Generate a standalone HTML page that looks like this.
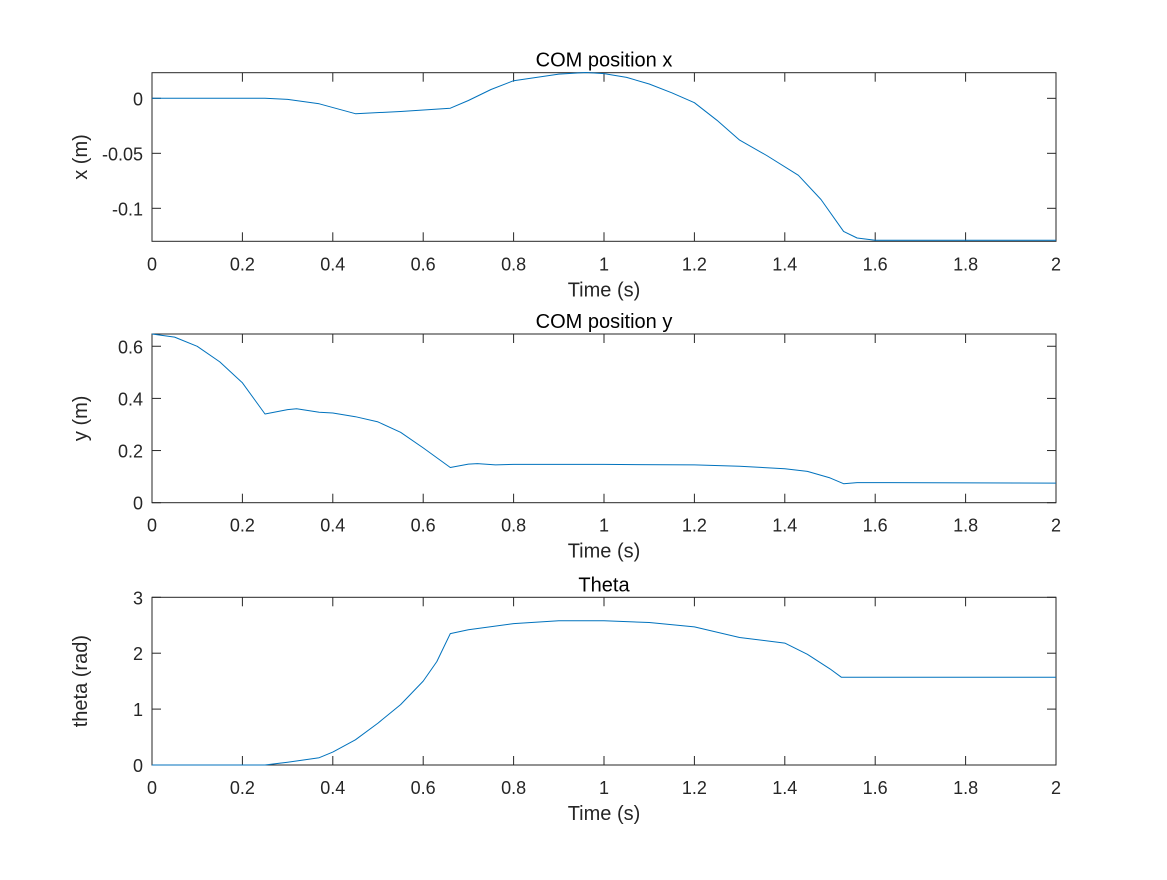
<!DOCTYPE html>
<html><head><meta charset="utf-8"><style>
body{margin:0;background:#fff;}
svg{font-family:"Liberation Sans",Arial,sans-serif;fill:#262626;}
</style></head><body>
<svg id="fig" width="1167" height="875" viewBox="0 0 1167 875" xmlns="http://www.w3.org/2000/svg"></svg>
<script>
const timeX=[0,0.25,0.3,0.37,0.45,0.55,0.66,0.7,0.75,0.8,0.9,0.96,1.0,1.05,1.1,1.15,1.2,1.25,1.3,1.36,1.43,1.48,1.53,1.56,1.6,2.0];
const comX=[0,0,-0.001,-0.005,-0.014,-0.012,-0.009,-0.002,0.008,0.016,0.022,0.0235,0.0225,0.019,0.013,0.005,-0.004,-0.02,-0.038,-0.052,-0.070,-0.092,-0.121,-0.127,-0.129,-0.129];
const timeY=[0,0.05,0.1,0.15,0.2,0.25,0.3,0.32,0.37,0.4,0.45,0.5,0.55,0.6,0.66,0.7,0.72,0.76,0.8,1.0,1.2,1.3,1.4,1.45,1.5,1.53,1.56,2.0];
const comY=[0.647,0.635,0.6,0.54,0.46,0.34,0.357,0.36,0.347,0.344,0.33,0.31,0.27,0.21,0.135,0.148,0.15,0.145,0.147,0.147,0.145,0.14,0.13,0.12,0.095,0.073,0.077,0.075];
const timeT=[0,0.25,0.3,0.37,0.4,0.45,0.5,0.55,0.6,0.63,0.66,0.7,0.8,0.9,1.0,1.1,1.2,1.3,1.4,1.45,1.5,1.525,2.0];
const theta=[0,0,0.05,0.13,0.23,0.45,0.75,1.08,1.5,1.85,2.35,2.42,2.53,2.58,2.58,2.55,2.47,2.28,2.18,1.98,1.72,1.57,1.57];
const xTicks=[0,0.2,0.4,0.6,0.8,1,1.2,1.4,1.6,1.8,2];
const xTickLabels=["0","0.2","0.4","0.6","0.8","1","1.2","1.4","1.6","1.8","2"];
const ticks1=[-0.1,-0.05,0];const labels1=["-0.1","-0.05","0"];
const ticks2=[0,0.2,0.4,0.6];const labels2=["0","0.2","0.4","0.6"];
const ticks3=[0,1,2,3];const labels3=["0","1","2","3"];

const svg=document.getElementById('fig');
const NS="http://www.w3.org/2000/svg";
function mk(tag,attrs,parent){const e=document.createElementNS(NS,tag);for(const k in attrs)e.setAttribute(k,attrs[k]);(parent||svg).appendChild(e);return e;}
const L=152,R=1056;
function panel(name,top,bot,ymin,ymax,ts,tl,yl,title,xs,ys){
  const g=mk('g',{});
  
  
  const sx=t=>L+(t-0)/(2-0)*(R-L);
  const sy=v=>bot-(v-ymin)/(ymax-ymin)*(bot-top);
  const box=mk('rect',{x:L,y:top,width:R-L,height:bot-top,fill:'#fff',stroke:'#262626','stroke-width':1},g);
  
  
  xTicks.forEach((t,i)=>{
    const x=sx(t);
    mk('line',{x1:x,x2:x,y1:bot,y2:bot-9,stroke:'#262626'},g);
    mk('line',{x1:x,x2:x,y1:top,y2:top+9,stroke:'#262626'},g);
    const tx=mk('text',{x:x,y:bot+29,'text-anchor':'middle','font-size':18},g);
    tx.textContent=xTickLabels[i];
    
    
  });
  ts.forEach((v,i)=>{
    const y=sy(v);
    mk('line',{x1:L,x2:L+9,y1:y,y2:y,stroke:'#262626'},g);
    mk('line',{x1:R,x2:R-9,y1:y,y2:y,stroke:'#262626'},g);
    const tx=mk('text',{x:L-9,y:y+7,'text-anchor':'end','font-size':18},g);
    tx.textContent=tl[i];
    
    
  });
  const d=xs.map((t,i)=>(i?'L':'M')+sx(t).toFixed(1)+','+sy(ys[i]).toFixed(1)).join(' ');
  const p=mk('path',{d:d,fill:'none',stroke:'#0072bd','stroke-width':1,'stroke-linejoin':'round'},g);
  
  
  const ti=mk('text',{x:(L+R)/2,y:top-6,'text-anchor':'middle','font-size':20,fill:'#000'},g);
  ti.textContent=title;
  
  
  const xl=mk('text',{x:(L+R)/2,y:bot+55,'text-anchor':'middle','font-size':20},g);
  xl.textContent='Time (s)';
  
  
  const cy=(top+bot)/2;
  const ylab=mk('text',{x:0,y:0,'text-anchor':'middle','font-size':20,transform:'translate(87,'+cy+') rotate(-90)'},g);
  ylab.textContent=yl;
  
  
}
panel('com-x-panel',72.7,241.3,-0.13,0.0233,ticks1,labels1,'x (m)','COM position x',timeX,comX);
panel('com-y-panel',334,502.7,0,0.647,ticks2,labels2,'y (m)','COM position y',timeY,comY);
panel('theta-panel',597.3,765,0,3,ticks3,labels3,'theta (rad)','Theta',timeT,theta);
</script>
</body></html>
